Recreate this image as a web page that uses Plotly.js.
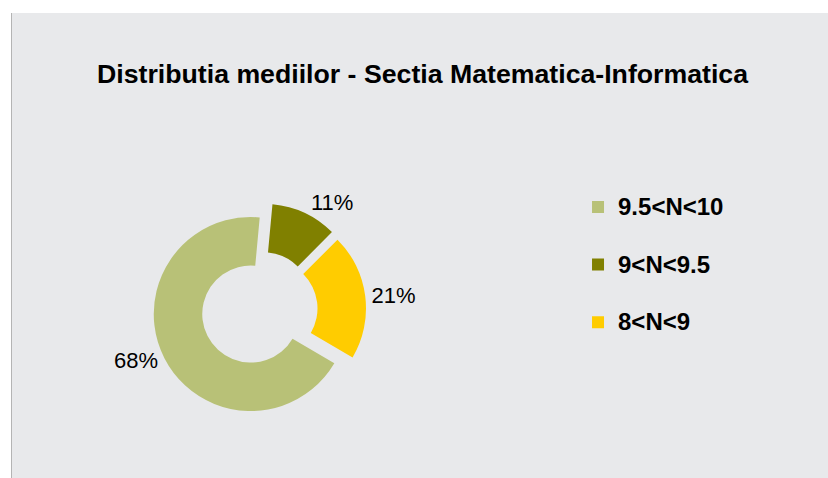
<!DOCTYPE html>
<html>
<head>
<meta charset="utf-8">
<script src="https://cdn.plot.ly/plotly-3.0.1.min.js"></script>
<style>
  html, body { margin: 0; padding: 0; background: #ffffff; }
  #chart { position: absolute; left: 11px; top: 13px; width: 817px; height: 465px; border-left: 1px solid #b4b4b4; }
</style>
</head>
<body>
<div id="chart"></div>
<script>
const categories = ["9.5<N<10", "9<N<9.5", "8<N<9"];
const shares = [68, 11, 21];
const sliceColors = ["#b8c177", "#808000", "#ffcc00"];
const chartTitle = "Distributia mediilor - Sectia Matematica-Informatica";

const trace = {
  type: "pie",
  labels: categories.map(c => '<span style="font-size:24px">' + c + "</span><br> "),
  values: shares,
  hole: 0.5,
  sort: false,
  direction: "clockwise",
  rotation: 120.5,
  pull: [0.1, 0.1, 0.1],
  marker: { colors: sliceColors, line: { width: 0 } },
  textinfo: "percent",
  texttemplate: "%{percent:.0%}",
  textposition: "outside",
  outsidetextfont: { family: "Liberation Sans, Arial, sans-serif", size: 22, color: "#000000" },
  domain: { x: [0.1722, 0.4334], y: [0.1327, 0.5916] },
  hoverinfo: "percent"
};

const layout = {
  width: 817,
  height: 465,
  margin: { l: 0, r: 0, t: 0, b: 0 },
  paper_bgcolor: "#e8e9eb",
  plot_bgcolor: "#e8e9eb",
  title: {
    text: "<b>" + chartTitle + "</b>",
    x: 0.5025,
    xanchor: "center",
    y: 0.8699,
    yanchor: "middle",
    xref: "paper",
    yref: "container",
    font: { family: "Liberation Sans, Arial, sans-serif", size: 26.7, color: "#000000" }
  },
  showlegend: true,
  legend: {
    x: 0.6928,
    xanchor: "left",
    y: 0.6261,
    yanchor: "top",
    valign: "top",
    bgcolor: "rgba(0,0,0,0)",
    font: { family: "Liberation Sans, Arial, sans-serif", size: 21, color: "#000000", weight: "bold" }
  }
};

Plotly.newPlot("chart", [trace], layout, { displayModeBar: false, staticPlot: true });
</script>
</body>
</html>
